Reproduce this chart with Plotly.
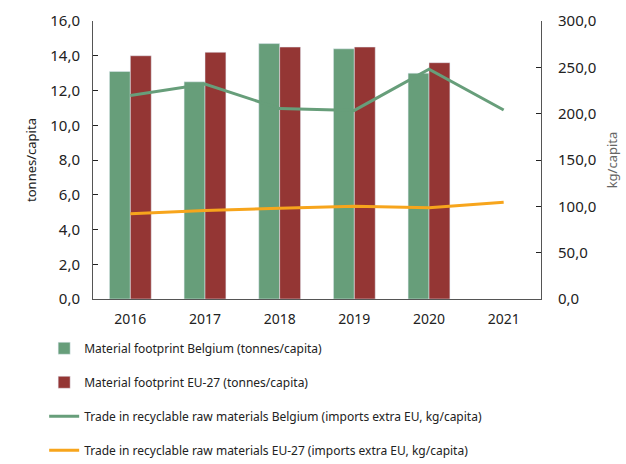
import plotly.graph_objects as go

years = ["2016", "2017", "2018", "2019", "2020", "2021"]

# tonnes/capita (left axis)
footprint_be = [13.1, 12.5, 14.7, 14.4, 13.0, None]
footprint_eu = [14.0, 14.2, 14.5, 14.5, 13.6, None]

# kg/capita (right axis)
trade_be = [219.5, 232.0, 205.5, 203.5, 248.0, 204.0]
trade_eu = [92.0, 95.5, 98.0, 100.0, 98.5, 104.5]

GREEN = "#679e7a"
RED = "#943634"
ORANGE = "#f7a51c"
AXIS = "#555"
FONT = "Noto Sans"

fig = go.Figure()
fig.add_trace(go.Bar(x=years, y=footprint_be, name="Material footprint Belgium (tonnes/capita)",
                     marker_color=GREEN, legendgroup="a"))
fig.add_trace(go.Bar(x=years, y=footprint_eu, name="Material footprint EU-27 (tonnes/capita)",
                     marker_color=RED, legendgroup="b"))
fig.add_trace(go.Scatter(x=years, y=trade_be, yaxis="y2", mode="lines",
                         name="Trade in recyclable raw materials Belgium (imports extra EU, kg/capita)",
                         line=dict(color=GREEN, width=3), legendgroup="c"))
fig.add_trace(go.Scatter(x=years, y=trade_eu, yaxis="y2", mode="lines",
                         name="Trade in recyclable raw materials EU-27 (imports extra EU, kg/capita)",
                         line=dict(color=ORANGE, width=3), legendgroup="d"))

fig.update_layout(
    width=626, height=464,
    margin=dict(l=93, r=85, t=21, b=165, autoexpand=False),
    plot_bgcolor="white", paper_bgcolor="white",
    separators=",.",
    font=dict(family=FONT, size=15, color="#222"),
    barmode="group", bargap=0.44, bargroupgap=0,
    showlegend=True,
    legend=dict(x=-0.109, y=-0.125, xanchor="left", yanchor="top",
                orientation="v", tracegroupgap=15,
                font=dict(size=12, color="#222"), traceorder="grouped"),
    xaxis=dict(showline=True, linecolor=AXIS, linewidth=1, ticks="",
               showgrid=False, tickfont=dict(size=14), automargin=False,
               ticklabelstandoff=7),
    yaxis=dict(range=[0, 16], dtick=2, tickformat=".1f", showline=True,
               linecolor=AXIS, linewidth=1, ticks="inside", ticklen=5,
               tickcolor="#222", showgrid=False, zeroline=False, automargin=False,
               ticklabelstandoff=9,
               title=dict(text="tonnes/capita", font=dict(size=13), standoff=10)),
    yaxis2=dict(range=[0, 300], dtick=50, tickformat=".1f", overlaying="y",
                side="right", showline=True, linecolor=AXIS, linewidth=1,
                ticks="inside", ticklen=5, tickcolor="#222", showgrid=False,
                zeroline=False, automargin=False, ticklabelstandoff=13,
                title=dict(text="kg/capita", font=dict(size=13, color="#666"), standoff=12)),
)

fig.write_html("out.html", config={"displayModeBar": False},
               post_script="document.body.style.margin='0';")
